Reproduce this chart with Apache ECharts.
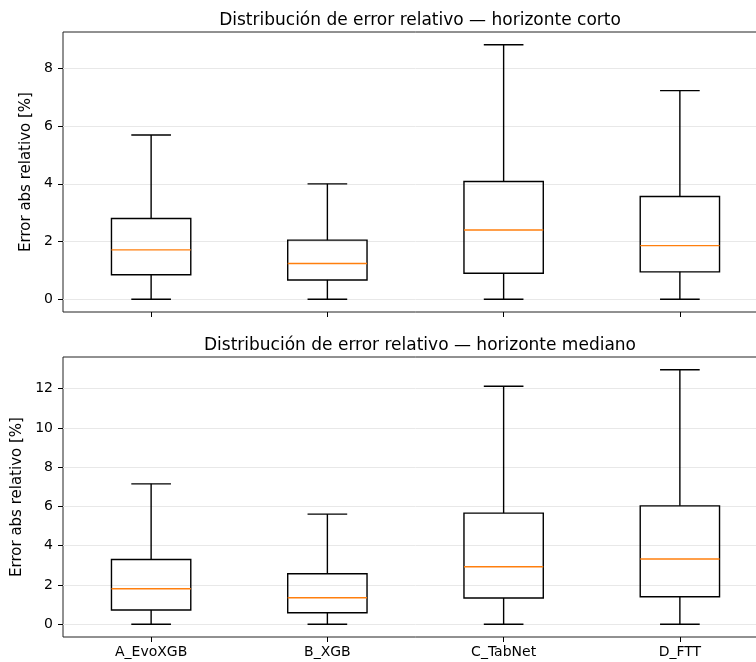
<!DOCTYPE html>
<html>
<head>
<meta charset="utf-8">
<script src="https://cdn.jsdelivr.net/npm/echarts@6/dist/echarts.min.js"></script>
<style>
  html, body { margin: 0; padding: 0; background: #fff; overflow: hidden; }
  /* the plot frame runs past the right edge of the picture, so the chart is a bit wider than the window */
  #chart { width: 780px; height: 662px; }
</style>
</head>
<body>
<div id="chart"></div>
<script>
const models = ['A_EvoXGB', 'B_XGB', 'C_TabNet', 'D_FTT'];

// [min, q1, median, q3, max] for each model
const shortHorizon = [
  [0, 0.85, 1.71, 2.80, 5.69],
  [0, 0.67, 1.24, 2.05, 4.00],
  [0, 0.90, 2.40, 4.08, 8.82],
  [0, 0.95, 1.86, 3.56, 7.23]
];
const midHorizon = [
  [0, 0.73, 1.81, 3.30, 7.15],
  [0, 0.59, 1.35, 2.57, 5.61],
  [0, 1.34, 2.93, 5.66, 12.12],
  [0, 1.40, 3.32, 6.03, 12.96]
];

const shortTicks = [0, 2, 4, 6, 8];
const midTicks = [0, 2, 4, 6, 8, 10, 12];

const font = 'DejaVu Sans';

// box like matplotlib: black box & whiskers, caps at half box width, orange median
function renderBox(params, api) {
  const i = api.value(0);
  const lo = api.coord([i, api.value(1)]);
  const q1 = api.coord([i, api.value(2)]);
  const med = api.coord([i, api.value(3)]);
  const q3 = api.coord([i, api.value(4)]);
  const hi = api.coord([i, api.value(5)]);
  const band = api.size([1, 0])[0];
  const bw = band * 0.45;
  const cw = bw * 0.5;
  const x = lo[0];
  const line = { stroke: '#000', lineWidth: 1.4, fill: null };
  return {
    type: 'group',
    children: [
      { type: 'line', shape: { x1: x, y1: q1[1], x2: x, y2: lo[1] }, style: line },
      { type: 'line', shape: { x1: x, y1: q3[1], x2: x, y2: hi[1] }, style: line },
      { type: 'line', shape: { x1: x - cw / 2, y1: lo[1], x2: x + cw / 2, y2: lo[1] }, style: line },
      { type: 'line', shape: { x1: x - cw / 2, y1: hi[1], x2: x + cw / 2, y2: hi[1] }, style: line },
      { type: 'rect', shape: { x: x - bw / 2, y: q3[1], width: bw, height: q1[1] - q3[1] }, style: { stroke: '#000', lineWidth: 1.4, fill: 'transparent' } },
      { type: 'line', shape: { x1: x - bw / 2, y1: med[1], x2: x + bw / 2, y2: med[1] }, style: { stroke: '#ff7f0e', lineWidth: 1.4 } }
    ]
  };
}

function toRows(stats) {
  return stats.map((s, i) => [i].concat(s));
}

function yAxisFor(gridIndex, min, max, ticks, gap) {
  return {
    type: 'value', gridIndex: gridIndex, min: min, max: max,
    name: 'Error abs relativo [%]', nameLocation: 'middle', nameGap: gap,
    nameTextStyle: { fontFamily: font, fontSize: 15, color: '#000' },
    axisLine: { show: false, onZero: false },
    axisTick: { show: true, length: 5, customValues: ticks, lineStyle: { color: '#000', width: 1 } },
    axisLabel: { customValues: ticks, fontFamily: font, fontSize: 14, color: '#000', margin: 10 },
    splitLine: { show: true, lineStyle: { color: '#e8e8e8', width: 1 } }
  };
}

function xAxisFor(gridIndex, showLabels) {
  return {
    type: 'category', gridIndex: gridIndex, data: models, position: 'bottom',
    axisLine: { show: false, onZero: false },
    axisTick: { show: true, alignWithLabel: true, length: 5, lineStyle: { color: '#000', width: 1 } },
    axisLabel: { show: showLabels, fontFamily: font, fontSize: 14, color: '#000', margin: 8 },
    splitLine: { show: false }
  };
}

const chart = echarts.init(document.getElementById('chart'), null, { renderer: 'canvas' });
chart.setOption({
  backgroundColor: '#fff',
  animation: false,
  title: [
    { text: 'Distribución de error relativo — horizonte corto', left: 415, top: 7, textAlign: 'center',
      textStyle: { fontFamily: font, fontSize: 17, fontWeight: 'normal', color: '#000' } },
    { text: 'Distribución de error relativo — horizonte mediano', left: 415, top: 332, textAlign: 'center',
      textStyle: { fontFamily: font, fontSize: 17, fontWeight: 'normal', color: '#000' } }
  ],
  grid: [
    { left: 63, right: 12, top: 32, height: 280, show: true, borderColor: '#222', borderWidth: 1, backgroundColor: 'transparent' },
    { left: 63, right: 12, top: 357, height: 280, show: true, borderColor: '#222', borderWidth: 1, backgroundColor: 'transparent' }
  ],
  xAxis: [xAxisFor(0, false), xAxisFor(1, true)],
  yAxis: [
    yAxisFor(0, -0.441, 9.261, shortTicks, 24),
    yAxisFor(1, -0.648, 13.608, midTicks, 31)
  ],
  series: [
    { type: 'custom', xAxisIndex: 0, yAxisIndex: 0, renderItem: renderBox, encode: { x: 0, y: [1, 2, 3, 4, 5] }, data: toRows(shortHorizon), z: 5 },
    { type: 'custom', xAxisIndex: 1, yAxisIndex: 1, renderItem: renderBox, encode: { x: 0, y: [1, 2, 3, 4, 5] }, data: toRows(midHorizon), z: 5 }
  ]
});
</script>
</body>
</html>
